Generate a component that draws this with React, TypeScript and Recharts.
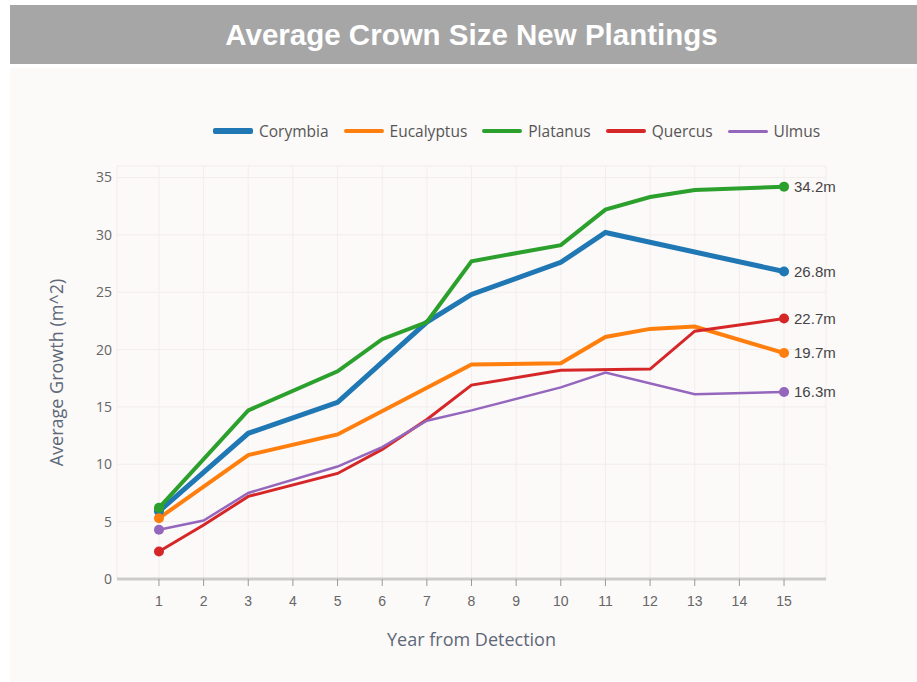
import { LineChart, Line, XAxis, YAxis, CartesianGrid, LabelList } from "recharts";

const years = [1, 2, 3, 4, 5, 6, 7, 8, 9, 10, 11, 12, 13, 14, 15];
const yTicks = [0, 5, 10, 15, 20, 25, 30, 35];

// null = no measurement that year, the line is drawn straight across
const corymbia = [5.9, null, 12.7, null, 15.4, null, 22.4, 24.8, null, 27.6, 30.2, null, null, null, 26.8];
const eucalyptus = [5.3, null, 10.8, null, 12.6, null, null, 18.7, null, 18.8, 21.1, 21.8, 22.0, null, 19.7];
const platanus = [6.2, null, 14.7, null, 18.1, 20.9, 22.4, 27.7, null, 29.1, 32.2, 33.3, 33.9, null, 34.2];
const quercus = [2.4, 4.7, 7.2, null, 9.2, 11.3, 13.9, 16.9, null, 18.2, null, 18.3, 21.6, null, 22.7];
const ulmus = [4.3, 5.1, 7.5, null, 9.8, 11.5, 13.8, 14.7, null, 16.7, 18.0, null, 16.1, null, 16.3];

const series = [
  { key: "Corymbia", values: corymbia, color: "#1f77b4", width: 5 },
  { key: "Eucalyptus", values: eucalyptus, color: "#ff7f0e", width: 4 },
  { key: "Platanus", values: platanus, color: "#2ca02c", width: 4 },
  { key: "Quercus", values: quercus, color: "#d62728", width: 3 },
  { key: "Ulmus", values: ulmus, color: "#9467bd", width: 2.5 },
];

const data = years.map((year, i) => {
  const row: Record<string, number | null> = { year };
  series.forEach((s) => (row[s.key] = s.values[i]));
  return row;
});

const lastIndex = years.length - 1;

function endDot(color: string) {
  return (props: any) => {
    const { cx, cy, index } = props;
    if ((index !== 0 && index !== lastIndex) || cy == null) return <g key={`d-${index}`} />;
    return <circle key={`d-${index}`} cx={cx} cy={cy} r={5} fill={color} stroke="none" />;
  };
}

function endLabel(props: any) {
  const { x, y, value, index } = props;
  if (index !== lastIndex || value == null) return null;
  return (
    <text x={x + 10} y={y} dy="0.35em" fill="#444" fontSize={15} fontFamily="Liberation Sans, Arial, sans-serif">
      {value}m
    </text>
  );
}

export default function App() {
  return (
    <div
      style={{
        position: "fixed",
        left: 0,
        top: 0,
        width: 917,
        height: 682,
        background: "#ffffff",
        overflow: "hidden",
      }}
    >
      <div style={{ position: "absolute", left: 10, top: 68, width: 907, height: 614, background: "#fcf9f9" }} />
      <div
        style={{
          position: "absolute",
          left: 10,
          top: 5,
          width: 907,
          height: 59,
          background: "#a6a6a6",
        }}
      />
      <div
        style={{
          position: "absolute",
          left: 0,
          top: 5,
          width: 943,
          height: 59,
          lineHeight: "59px",
          textAlign: "center",
          color: "#fff",
          fontFamily: "Liberation Sans, Arial, sans-serif",
          fontWeight: "bold",
          fontSize: 29.5,
        }}
      >
        Average Crown Size New Plantings
      </div>

      <div
        style={{
          position: "absolute",
          left: 213,
          top: 121,
          display: "flex",
          alignItems: "center",
          fontFamily: "'Open Sans', sans-serif",
          fontSize: 15.5,
          color: "#555",
          height: 20,
        }}
      >
        {series.map((s) => (
          <div key={s.key} style={{ display: "flex", alignItems: "center", marginRight: 15 }}>
            <div style={{ width: 40, height: s.width + 0.5, background: s.color, borderRadius: 2, marginRight: 6 }} />
            <span>{s.key}</span>
          </div>
        ))}
      </div>

      <div style={{ position: "absolute", left: 0, top: 0 }}>
        <LineChart width={917} height={682} data={data} margin={{ top: 166, right: 91, bottom: 53, left: 57 }}>
          <CartesianGrid stroke="#f3eded" strokeWidth={1} />
          <XAxis
            dataKey="year"
            type="number"
            domain={[0.06, 15.94]}
            ticks={years}
            interval={0}
            height={50}
            axisLine={{ stroke: "#cccccc", strokeWidth: 3 }}
            tickLine={{ stroke: "#999" }}
            tickSize={7}
            tickMargin={10}
            tick={{ fill: "#666", fontSize: 14, fontFamily: "Liberation Sans, Arial, sans-serif" }}
            label={{
              value: "Year from Detection",
              position: "bottom",
              offset: 4,
              fill: "#5d6878",
              fontSize: 18,
              fontFamily: "'Open Sans', sans-serif",
            }}
          />
          <YAxis
            type="number"
            domain={[0, 36]}
            ticks={yTicks}
            width={60}
            axisLine={false}
            tickLine={false}
            tickSize={0}
            tickMargin={5}
            tick={{ fill: "#666", fontSize: 14, fontFamily: "'Open Sans', sans-serif" }}
            label={{
              value: "Average Growth (m^2)",
              angle: -90,
              position: "insideLeft",
              offset: 0,
              fill: "#5d6878",
              fontSize: 18,
              fontFamily: "'Open Sans', sans-serif",
              style: { textAnchor: "middle" },
            }}
          />
          {series.map((s) => (
            <Line
              key={s.key}
              dataKey={s.key}
              type="linear"
              stroke={s.color}
              strokeWidth={s.width}
              connectNulls
              dot={endDot(s.color)}
              activeDot={false}
              isAnimationActive={false}
            >
              <LabelList dataKey={s.key} content={endLabel} />
            </Line>
          ))}
        </LineChart>
      </div>
    </div>
  );
}
